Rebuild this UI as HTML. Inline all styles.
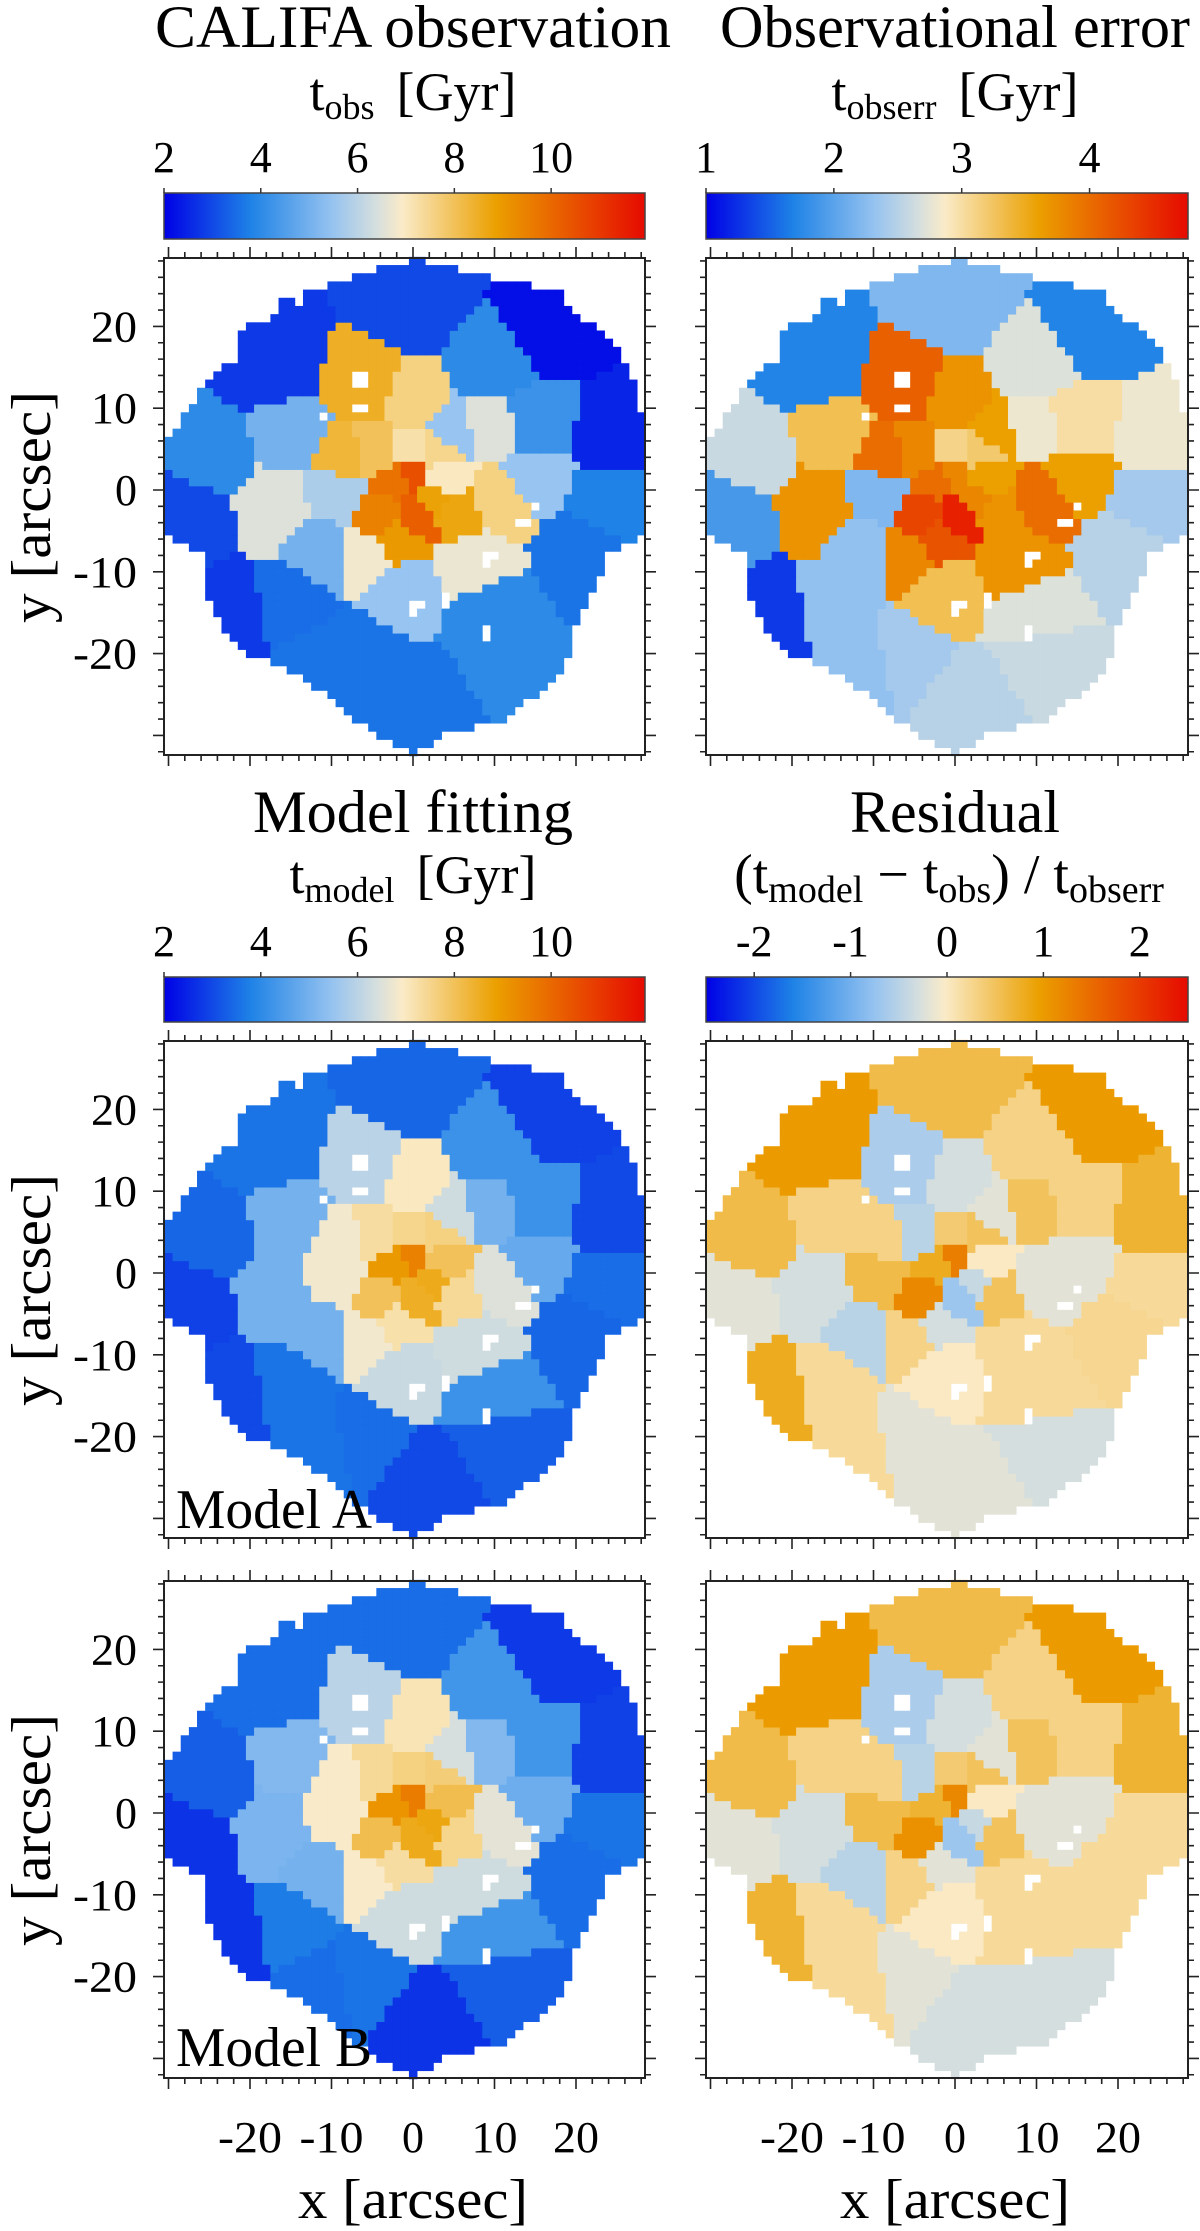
<!DOCTYPE html>
<html><head><meta charset="utf-8">
<style>
html,body{margin:0;padding:0;background:#fff;}
svg{display:block;font-family:"Liberation Serif","DejaVu Serif",serif;}
</style></head>
<body>
<svg id="fig" width="1200" height="2231" viewBox="0 0 1200 2231" xmlns="http://www.w3.org/2000/svg">
<defs>
<linearGradient id="cm" x1="0" x2="1" y1="0" y2="0">
<stop offset="0" stop-color="rgb(0,0,230)"/>
<stop offset="0.18" stop-color="rgb(30,130,230)"/>
<stop offset="0.35" stop-color="rgb(150,195,240)"/>
<stop offset="0.44" stop-color="rgb(212,222,222)"/>
<stop offset="0.495" stop-color="rgb(250,235,200)"/>
<stop offset="0.69" stop-color="rgb(235,160,0)"/>
<stop offset="1" stop-color="rgb(230,10,0)"/>
</linearGradient>
</defs>
<g id="maps"></g>
<g id="axes"></g>
<!-- titles -->
<text x="413" y="47" font-size="60" text-anchor="middle" textLength="516" lengthAdjust="spacingAndGlyphs">CALIFA observation</text>
<text x="955" y="47" font-size="60" text-anchor="middle" textLength="470" lengthAdjust="spacingAndGlyphs">Observational error</text>
<text x="413" y="832" font-size="60" text-anchor="middle" textLength="320" lengthAdjust="spacingAndGlyphs">Model fitting</text>
<text x="955" y="832" font-size="60" text-anchor="middle" textLength="210" lengthAdjust="spacingAndGlyphs">Residual</text>
<!-- colorbar labels -->
<text x="413" y="110" font-size="54" text-anchor="middle">t<tspan font-size="36" dy="9">obs</tspan><tspan dy="-9" dx="22">[Gyr]</tspan></text>
<text x="955" y="110" font-size="54" text-anchor="middle">t<tspan font-size="36" dy="9">obserr</tspan><tspan dy="-9" dx="22">[Gyr]</tspan></text>
<text x="413" y="893" font-size="54" text-anchor="middle">t<tspan font-size="36" dy="9">model</tspan><tspan dy="-9" dx="22">[Gyr]</tspan></text>
<text x="949" y="893" font-size="56" text-anchor="middle">(t<tspan font-size="38" dy="9">model</tspan><tspan dy="-9"> − t</tspan><tspan font-size="38" dy="9">obs</tspan><tspan dy="-9">) / t</tspan><tspan font-size="38" dy="9">obserr</tspan></text>
<text x="176" y="1528" font-size="56" textLength="196" lengthAdjust="spacingAndGlyphs">Model A</text>
<text x="176" y="2066" font-size="56" textLength="196" lengthAdjust="spacingAndGlyphs">Model B</text>
<text x="413" y="2218" font-size="56" text-anchor="middle" textLength="230" lengthAdjust="spacingAndGlyphs">x [arcsec]</text>
<text x="955" y="2218" font-size="56" text-anchor="middle" textLength="230" lengthAdjust="spacingAndGlyphs">x [arcsec]</text>
<text transform="translate(50,507) rotate(-90)" font-size="56" text-anchor="middle" textLength="232" lengthAdjust="spacingAndGlyphs">y [arcsec]</text>
<text transform="translate(50,1290) rotate(-90)" font-size="56" text-anchor="middle" textLength="232" lengthAdjust="spacingAndGlyphs">y [arcsec]</text>
<text transform="translate(50,1830) rotate(-90)" font-size="56" text-anchor="middle" textLength="232" lengthAdjust="spacingAndGlyphs">y [arcsec]</text>
</svg>
<script>
// ---- data (Voronoi bins, arcsec) ----
const binX = [-17,0,17,24.4,9.4,-24.4,-27,-22.5,-15,-6.6,1.9,11,20.7,23.5,15,-11,10,-15,-17,-11,-5.6,-1.9,7.5,10.3,15,9.4,4.7,-5.6,0,-8.5,-4.7,0,-3.8,5.6,0,0,3.8,-9.4,-2,2,-2,3];
const binY = [15,22.5,20,6.2,15,3.7,-3,-15,-13.7,-20,-26,-20.6,-7.5,-1.2,8,-21,-15,7,-2,-7.5,-8,-12,-8.7,-1.2,2,7.5,7,12.5,11,3.7,4.4,5,-3,-2.5,1.2,-3,1.2,0,1,-1,-6,5];
const valObs = [2.8,3.0,2.2,2.5,4.0,4.0,3.0,2.8,3.5,3.6,3.6,4.0,3.6,3.8,4.2,3.6,4.0,5.0,6.5,5.0,6.8,5.5,6.7,7.6,5.5,6.5,5.5,8.5,7.6,8.3,8.0,7.2,9.5,8.7,10.5,10.2,7.0,5.8,9.8,8.8,9.0,7.5];
const valErr = [1.7,2.2,1.7,2.8,2.7,2.6,1.9,1.3,2.3,2.4,2.5,2.6,2.5,2.4,3.0,2.3,2.7,3.3,3.7,2.3,3.8,3.3,3.7,4.0,3.6,2.8,3.6,4.1,3.7,4.0,3.8,3.1,4.3,3.7,3.8,4.6,3.6,2.2,4.0,3.8,4.2,3.2];
const valModelA = [3.6,3.4,2.9,3.0,4.2,3.4,2.9,3.0,3.6,3.5,3.0,3.3,3.4,3.5,4.2,3.6,4.2,5.0,5.0,5.0,6.8,6.2,6.3,6.5,4.8,5.0,6.3,6.0,7.0,6.8,7.3,7.5,8.0,7.4,9.5,8.5,8.0,6.8,9.0,8.6,7.2,7.6];
const valModelB = [3.5,3.5,2.8,2.9,4.3,3.3,2.7,2.7,3.7,3.6,2.7,3.3,3.5,3.6,4.3,3.5,4.3,5.2,5.1,5.0,6.9,6.3,6.3,6.6,4.9,5.2,6.4,6.0,7.1,6.9,7.4,7.6,8.1,7.5,9.6,8.6,8.1,6.9,9.1,8.7,7.3,7.7];
const valResA = [1.0,0.6,1.0,0.7,0.3,0.6,-0.2,0.8,0.2,-0.2,-0.2,-0.3,0.25,0.2,0.3,0.2,0.2,0.3,-0.3,-0.5,0.3,0.0,0.2,-0.2,-0.2,0.5,-0.2,-0.6,-0.3,0.3,-0.5,0.4,1.2,0.5,1.3,-0.7,0.0,0.6,0.8,-0.4,-0.3,0.5];
const valResB = [1.0,0.6,1.0,0.7,0.3,0.6,-0.2,0.7,0.2,-0.2,-0.3,-0.3,0.2,0.2,0.3,0.2,0.2,0.3,-0.3,-0.5,0.3,0.0,0.2,-0.2,-0.2,0.5,-0.2,-0.6,-0.3,0.3,-0.5,0.4,1.1,0.5,1.2,-0.7,0.0,0.6,0.7,-0.4,-0.2,0.5];
// footprint of the IFU field
const maskRowY = [28,26,24,22,20,18,16,14,12,10,8,6,4,2,0,-2,-4,-6,-8,-10,-12,-14,-16,-18,-20,-22,-24,-26,-28,-30,-32];
const maskXmin = [-0.5,-7.5,-12.7,-14,-20,-21.6,-21.6,-24,-25.8,-27,-28.5,-30.5,-30.5,-30.5,-30.5,-30.5,-30.5,-29.6,-25.4,-25.4,-25,-24.5,-23.5,-22.5,-20.2,-15,-11.7,-9,-7,-3.8,-0.3];
const maskXmax = [1,9.4,18,19,22,24.4,25.4,26.5,27.2,27.5,28,28.2,28.5,28.5,28.5,28.5,28.5,27.2,23.5,23,22,21,20,19.2,19.2,18,16.4,13,10.8,3.3,0.3];
const extraPix = [[-16,22],[-15,22],[-16,23],[-15,23]];
const holePix = [[-7,14],[-6,14],[-7,13],[-6,13],[-7,10],[-6,10],[-11,9],[14,-4],[13,-4],[9,-8],[9,-9],[10,-8],[4,-13],[4,-14],[0,-14],[1,-14],[0,-15],[9,-17],[9,-18],[15,-2]];
// tick labels
const cbTicksObs = [2,4,6,8,10];
const cbTicksErr = [1,2,3,4];
const cbTicksRes = [-2,-1,0,1,2];
const axisTicks = [-20,-10,0,10,20];

const NS = "http://www.w3.org/2000/svg";
const maps = document.getElementById('maps');
const axes = document.getElementById('axes');
const PX = 8.15, PY = 8.18;
const stops = [[0,[0,0,230]],[0.18,[30,130,230]],[0.35,[150,195,240]],[0.44,[212,222,222]],[0.495,[250,235,200]],[0.69,[235,160,0]],[1,[230,10,0]]];
function cmap(t){
  t=Math.max(0,Math.min(1,t));
  for(let i=1;i<stops.length;i++){
    if(t<=stops[i][0]){
      const a=stops[i-1],b=stops[i];const f=(t-a[0])/(b[0]-a[0]);
      const c=a[1].map((v,k)=>Math.round(v+(b[1][k]-v)*f));
      return 'rgb('+c.join(',')+')';
    }
  }
  return 'rgb(230,10,0)';
}
function interp(arrY, arrV, y){
  for(let i=1;i<arrY.length;i++){
    if(y>=arrY[i]){const f=(y-arrY[i])/(arrY[i-1]-arrY[i]);return arrV[i]+(arrV[i-1]-arrV[i])*f;}
  }
  return null;
}
const pixels=[];
const holeSet=new Set(holePix.map(p=>p[0]+','+p[1]));
for(let iy=-32;iy<=28;iy++){
  const xmn=interp(maskRowY,maskXmin,iy), xmx=interp(maskRowY,maskXmax,iy);
  if(xmn===null) continue;
  for(let ix=-30;ix<=28;ix++){
    if(ix>=xmn-0.3 && ix<=xmx+0.3 && !holeSet.has(ix+','+iy)) pixels.push([ix,iy]);
  }
}
extraPix.forEach(p=>pixels.push(p));
function nearestBin(x,y){
  let best=0,bd=1e9;
  for(let i=0;i<binX.length;i++){const d=(x-binX[i])**2+(y-binY[i])**2;if(d<bd){bd=d;best=i;}}
  return best;
}
const pixBin = pixels.map(p=>nearestBin(p[0],p[1]));

const panels=[
 {name:'map-califa-observation',vals:valObs,lo:2,hi:11.94,x0:413,y0:490,L:164,R:645,T:258,B:755,ylab:true,xlab:false},
 {name:'map-observational-error',vals:valErr,lo:1,hi:4.77,x0:955,y0:490,L:706,R:1188,T:258,B:755,ylab:false,xlab:false},
 {name:'map-model-a',vals:valModelA,lo:2,hi:11.94,x0:413,y0:1273,L:164,R:645,T:1041,B:1538,ylab:true,xlab:false},
 {name:'map-residual-a',vals:valResA,lo:-2.5,hi:2.5,x0:955,y0:1273,L:706,R:1188,T:1041,B:1538,ylab:false,xlab:false},
 {name:'map-model-b',vals:valModelB,lo:2,hi:11.94,x0:413,y0:1813,L:164,R:645,T:1581,B:2078,ylab:true,xlab:true},
 {name:'map-residual-b',vals:valResB,lo:-2.5,hi:2.5,x0:955,y0:1813,L:706,R:1188,T:1581,B:2078,ylab:false,xlab:true}
];
function mk(tag,attrs,parent){const e=document.createElementNS(NS,tag);for(const k in attrs)e.setAttribute(k,attrs[k]);parent.appendChild(e);return e;}
panels.forEach(p=>{
  const g=mk('g',{},maps);
  
  
  const xs=v=>p.x0+v*PX, ys=v=>p.y0-v*PY;
  pixels.forEach((px,i)=>{
    const v=p.vals[pixBin[i]];
    const r=mk('rect',{x:(xs(px[0]-0.5)).toFixed(2),y:(ys(px[1]+0.5)).toFixed(2),width:PX+0.4,height:PY+0.4,fill:cmap((v-p.lo)/(p.hi-p.lo))},g);
    
    
  });
  const a=mk('g',{},axes);
  
  
  mk('rect',{x:p.L,y:p.T,width:p.R-p.L,height:p.B-p.T,fill:'none',stroke:'#222','stroke-width':2},a);
  let d='';
  for(let v=-30;v<=28;v+=2){const X=xs(v);if(X<p.L||X>p.R)continue;const len=(v%10===0)?11:6;d+=`M${X},${p.T}v${-len}M${X},${p.B}v${len}`;}
  for(let v=-32;v<=28;v+=2){const Y=ys(v);if(Y<p.T||Y>p.B)continue;const len=(v%10===0)?11:6;d+=`M${p.L},${Y}h${-len}M${p.R},${Y}h${len}`;}
  mk('path',{d:d,stroke:'#222','stroke-width':1.6,fill:'none'},a);
  if(p.ylab){axisTicks.forEach(v=>{const t=mk('text',{x:137,y:ys(v)+15,'font-size':44,'text-anchor':'end',textLength:(v<0?64:(v===0?22:46)),lengthAdjust:'spacingAndGlyphs'},a);t.textContent=String(v);
    
    });}
  if(p.xlab){axisTicks.forEach(v=>{const t=mk('text',{x:xs(v),y:2152,'font-size':44,'text-anchor':'middle',textLength:(v<0?64:(v===0?22:46)),lengthAdjust:'spacingAndGlyphs'},a);t.textContent=String(v);
    
    });}
});
const cbs=[
 {name:'colorbar-tobs',L:164,R:645,T:193,B:239,lo:2,hi:11.94,ticks:cbTicksObs},
 {name:'colorbar-tobserr',L:706,R:1188,T:193,B:239,lo:1,hi:4.77,ticks:cbTicksErr},
 {name:'colorbar-tmodel',L:164,R:645,T:977,B:1022,lo:2,hi:11.94,ticks:cbTicksObs},
 {name:'colorbar-residual',L:706,R:1188,T:977,B:1022,lo:-2.5,hi:2.5,ticks:cbTicksRes}
];
cbs.forEach(c=>{
  const g=mk('g',{},axes);
  
  
  mk('rect',{x:c.L,y:c.T,width:c.R-c.L,height:c.B-c.T,fill:'url(#cm)',stroke:'#444','stroke-width':1.5},g);
  c.ticks.forEach(v=>{
    const X=c.L+(v-c.lo)/(c.hi-c.lo)*(c.R-c.L);
    mk('path',{d:`M${X},${c.T}v-5`,stroke:'#333','stroke-width':1.5},g);
    const t=mk('text',{x:X,y:c.T-21,'font-size':44,'text-anchor':'middle'},g);
    t.textContent=String(v);
    
    
  });
});
</script>
</body></html>
